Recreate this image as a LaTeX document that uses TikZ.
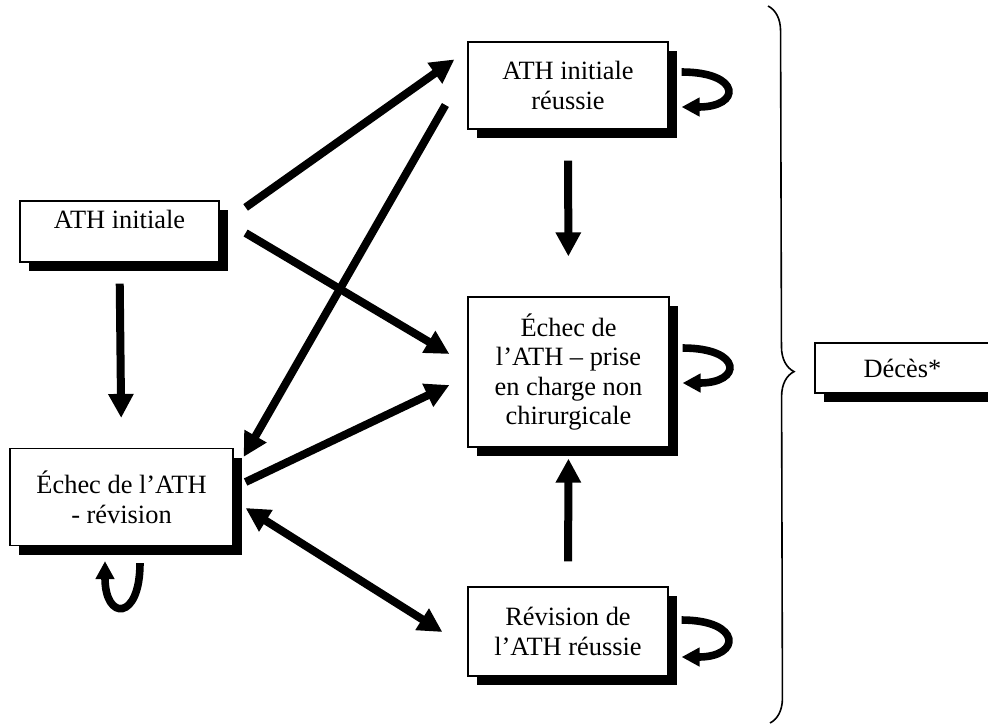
\documentclass[tikz,border=0pt]{standalone}
\usepackage{fontspec}
\setmainfont{Liberation Serif}
\usetikzlibrary{%
  arrows.meta,%
  calc,%
  shadows,%
  decorations.pathreplacing%
}
\tikzset{>={Triangle[length=12pt,width=12pt]},%
  etat/.style={draw,line width=0.6pt,fill=white,align=center,
    font=\fontsize{13.2}{14.8}\selectfont,inner sep=2pt,
    drop shadow={shadow xshift=4.5pt,shadow yshift=-4.5pt,
      fill=black,opacity=1}},%
  fleche/.style={->,line width=4pt},%
  boucle/.style={-{Triangle[length=9pt,width=9pt]},line width=3.8pt}}

\begin{document}
\begin{tikzpicture}[x=0.5pt,y=-0.5pt]
  \useasboundingbox (0,0) rectangle (988,725);
  \node[etat,minimum width=99.5pt,minimum height=30.5pt,text depth=12.5pt] (init)
    at (119.5,231.5) {ATH initiale};
  \node[etat,minimum width=100pt,minimum height=43.5pt] (reussie)
    at (568,85.5) {ATH initiale\\réussie};
  \node[etat,minimum width=100.5pt,minimum height=75pt] (prise)
    at (568.5,372) {Échec de\\l’ATH – prise\\en charge non\\chirurgicale};
  \node[etat,minimum width=111.5pt,minimum height=48.5pt] (revision)
    at (121.5,497) {Échec de l’ATH\\- révision};
  \node[etat,minimum width=100pt,minimum height=44.5pt] (revreussie)
    at (568,631.5) {Révision de\\l’ATH réussie};
  \node[etat,minimum width=87.5pt,minimum height=25pt] (deces)
    at (902.5,368) {Décès*};
  \draw[fleche] ($(init.north east)+(26,7)$) -- ($(reussie.north west)+(-13,18)$);
  \draw[fleche] ($(init.east)+(26,1.5)$) -- ($(prise.west)+(-18,-18)$);
  \draw[fleche,shorten <=10.5pt,shorten >=15pt] (init.south) -- (revision.north);
  \draw[fleche,shorten <=15.5pt,shorten >=20pt] (reussie.south) -- (prise.north);
  \draw[fleche] ($(reussie.west)+(-22,19.5)$) -- ($(revision.north east)+(10,9)$);
  \draw[fleche] ($(revision.east)+(12,-15)$) -- ($(prise.west)+(-18,13)$);
  \draw[fleche,<->] ($(revision.east)+(12,11)$) -- ($(revreussie.west)+(-25,0.5)$);
  \draw[fleche,shorten <=12.5pt,shorten >=5.5pt] (revreussie.north) -- (prise.south);
  \foreach \n/\a/\b in {reussie/-13.5/21.5,prise/-24/11,revreussie/-11.5/25.5} {
    \draw[boucle] ($(\n.east)+(13,\a)$) .. controls ($(\n.east)+(73,\a)$)
      and ($(\n.east)+(73,\b)$) .. ($(\n.east)+(13,\b)$);}
  \draw[boucle] ($(revision.south)+(18.5,17)$) .. controls ($(revision.south)+(18.5,75)$)
    and ($(revision.south)+(-16.5,75)$) .. ($(revision.south)+(-16.5,15)$);
  \draw[line width=0.8pt,decorate,decoration={brace,amplitude=12.5pt,aspect=0.51}]
    (768,6) -- (770,723);
\end{tikzpicture}
\end{document}
